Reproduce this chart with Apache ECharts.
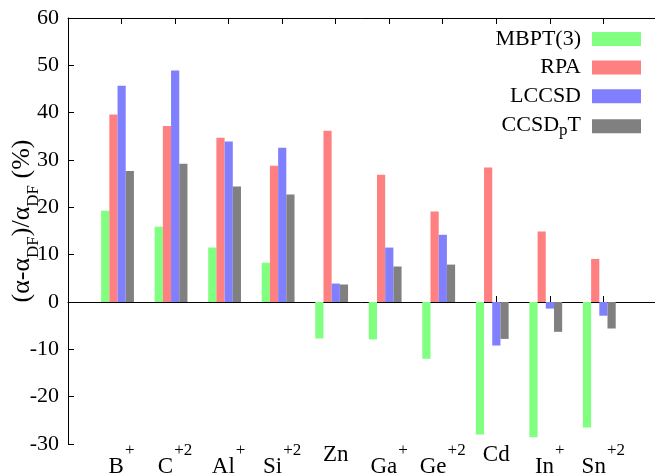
<!DOCTYPE html>
<html><head><meta charset="utf-8">
<script src="https://cdn.jsdelivr.net/npm/echarts@6/dist/echarts.min.js"></script>
<style>html,body{margin:0;padding:0;background:#fff}#c{width:655px;height:476px}</style>
</head><body><div id="c"></div>
<script>
// ---- data ----
const categories = ['B', 'C', 'Al', 'Si', 'Zn', 'Ga', 'Ge', 'Cd', 'In', 'Sn'];
const charges    = ['+', '+2', '+', '+2', '', '+', '+2', '', '+', '+2'];
const seriesNames = ['MBPT(3)', 'RPA', 'LCCSD', 'CCSDpT'];
const mbpt3  = [19.3, 15.9, 11.5, 8.3, -7.7, -7.9, -12.0, -28.0, -28.6, -26.5];
const rpa    = [39.6, 37.2, 34.7, 28.8, 36.2, 26.9, 19.1, 28.4, 14.9, 9.1];
const lccsd  = [45.7, 48.9, 33.9, 32.6, 3.9, 11.5, 14.2, -9.2, -1.4, -2.9];
const ccsdpt = [27.7, 29.2, 24.4, 22.7, 3.7, 7.5, 7.9, -7.8, -6.3, -5.6];
const yMin = -30, yMax = 60, yStep = 10;
const yTitle = '{n|(α-α}{s|DF}{n|)/α}{s|DF}{n| (%)}';

// ---- layout ----
const FONT = 'Liberation Serif';
const plotLeft = 68, plotTop = 18, plotBottom = 444;
const pitch = 53.53;          // distance between category ticks
const barOffset = -4;         // bar clusters sit slightly left of the ticks
const frameWidth = 599;       // frame runs past the right edge of the canvas
const colors = ['#80ff80', '#ff8080', '#8080ff', '#808080'];
const values = [mbpt3, rpa, lccsd, ccsdpt];

const chart = echarts.init(document.getElementById('c'), null, {renderer: 'canvas'});

const catLabel = (v) => {
  const r = Math.round(v);
  if (Math.abs(v - r) > 1e-6) return '';
  const i = r - 1;
  if (i < 0 || i >= categories.length) return '';
  return '{n|' + categories[i] + '}' + (charges[i] ? '{p|' + charges[i] + '}' : '');
};

const option = {
  animation: false,
  backgroundColor: '#fff',
  grid: [
    {left: plotLeft, top: plotTop, width: frameWidth, height: plotBottom - plotTop, outerBoundsMode: 'none', containLabel: false},
    {left: plotLeft + pitch / 2 + barOffset, top: plotTop, width: pitch * categories.length, height: plotBottom - plotTop, outerBoundsMode: 'none', containLabel: false}
  ],
  xAxis: [
    {
      gridIndex: 0, type: 'value', position: 'bottom', min: 0, max: frameWidth / pitch, interval: 1,
      axisLine: {show: true, lineStyle: {color: '#000', width: 1}},
      axisTick: {show: true, inside: true, length: 6, lineStyle: {color: '#000'}},
      splitLine: {show: false},
      axisLabel: {
        show: true, margin: -2, formatter: catLabel, color: '#000', fontFamily: FONT, showMinLabel: true, showMaxLabel: true,
        rich: {
          n: {fontFamily: FONT, fontSize: 23, color: '#000', lineHeight: 24, verticalAlign: 'bottom'},
          p: {fontFamily: FONT, fontSize: 17, color: '#000', padding: [0, 0, 19, 1], verticalAlign: 'top'}
        }
      }
    },
    {
      gridIndex: 0, type: 'value', position: 'top', min: 0, max: frameWidth / pitch, interval: 1,
      axisLine: {show: true, lineStyle: {color: '#000', width: 1}},
      axisTick: {show: true, inside: true, length: 6, lineStyle: {color: '#000'}},
      splitLine: {show: false},
      axisLabel: {show: false}
    },
    {
      gridIndex: 1, type: 'category', data: categories, show: false,
      axisLine: {show: false}, axisTick: {show: false}, axisLabel: {show: false}
    }
  ],
  yAxis: [
    {
      gridIndex: 0, type: 'value', min: yMin, max: yMax, interval: yStep, position: 'left',
      axisLine: {show: true, lineStyle: {color: '#000', width: 1}},
      axisTick: {show: true, inside: true, length: 6, lineStyle: {color: '#000'}},
      splitLine: {show: false},
      axisLabel: {margin: 9, color: '#000', fontFamily: FONT, fontSize: 22}
    },
    {gridIndex: 1, type: 'value', min: yMin, max: yMax, show: false, splitLine: {show: false}}
  ],
  graphic: [{
    type: 'text', x: 25.75, y: 221, rotation: Math.PI / 2, silent: true,
    style: {
      text: yTitle, align: 'center', verticalAlign: 'middle', fill: '#000',
      font: '26px ' + FONT,
      rich: {
        n: {fontFamily: FONT, fontSize: 26, fill: '#000', lineHeight: 26, verticalAlign: 'top'},
        s: {fontFamily: FONT, fontSize: 17, fill: '#000', padding: [16.5, 0, 0, 0], verticalAlign: 'top'}
      }
    }
  }],
  legend: {
    orient: 'vertical', right: 14, top: 28, align: 'right', padding: 0,
    itemWidth: 49, itemHeight: 14, itemGap: 6.6, icon: 'rect', selectedMode: false,
    data: seriesNames,
    formatter: (name) => name === 'CCSDpT' ? '{n|CCSD}{s|p}{n|T}' : '{n|' + name + '}',
    textStyle: {
      color: '#000', fontFamily: FONT, fontSize: 22, padding: [0, 6, 0, 0],
      rich: {
        n: {fontFamily: FONT, fontSize: 22, color: '#000', lineHeight: 22, verticalAlign: 'top'},
        s: {fontFamily: FONT, fontSize: 17, color: '#000', padding: [8, 0, 0, 0], verticalAlign: 'top'}
      }
    }
  },
  series: seriesNames.map((name, k) => ({
    name: name, type: 'bar', xAxisIndex: 2, yAxisIndex: 1,
    data: values[k], barWidth: 8.2, barGap: '0%',
    itemStyle: {color: colors[k]},
    emphasis: {disabled: true}
  }))
};
chart.setOption(option);
</script>
</body></html>
